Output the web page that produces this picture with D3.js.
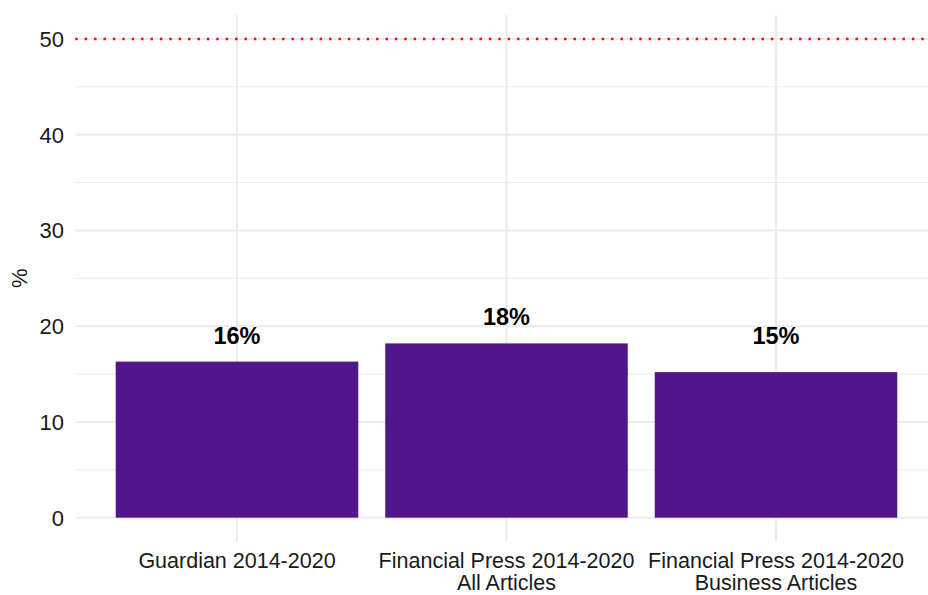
<!DOCTYPE html>
<html>
<head>
<meta charset="utf-8">
<script src="https://cdn.jsdelivr.net/npm/d3@7"></script>
<style>
  html, body { margin: 0; padding: 0; background: #fff; }
  svg { display: block; font-family: "Liberation Sans", Arial, sans-serif; }
</style>
</head>
<body>
<div id="chart"></div>
<script>
// Share of articles per source (%)
const categories = [
  ["Guardian 2014-2020"],
  ["Financial Press 2014-2020", "All Articles"],
  ["Financial Press 2014-2020", "Business Articles"]
];
const values = [16.3, 18.2, 15.2];
// vertical anchor (in % units) of each value label
const labelAnchors = [18.1, 20.1, 18.1];
const yTicks = [0, 10, 20, 30, 40, 50];
const yMinorTicks = [5, 15, 25, 35, 45];
const referenceLine = 50;

const W = 928, H = 595;
const svg = d3.select("#chart").append("svg")
  .attr("width", W).attr("height", H);

const keys = categories.map(c => c.join(" "));

const x = d3.scaleBand()
  .domain(keys)
  .range([75.3, 937.7])
  .paddingInner(0.1)
  .paddingOuter(0.15);

const y = d3.scaleLinear()
  .domain([-2.5, 52.5])
  .range([541.6, 15]);

const panelLeft = 75.3, panelRight = 937.7;

// grid: minor horizontal
svg.append("g").selectAll("line").data(yMinorTicks).join("line")
  .attr("x1", panelLeft).attr("x2", panelRight)
  .attr("y1", d => y(d)).attr("y2", d => y(d))
  .attr("stroke", "#EBEBEB").attr("stroke-width", 1);

// grid: major horizontal
svg.append("g").selectAll("line").data(yTicks).join("line")
  .attr("x1", panelLeft).attr("x2", panelRight)
  .attr("y1", d => y(d)).attr("y2", d => y(d))
  .attr("stroke", "#EBEBEB").attr("stroke-width", 2);

// grid: major vertical
svg.append("g").selectAll("line").data(keys).join("line")
  .attr("x1", d => x(d) + x.bandwidth() / 2).attr("x2", d => x(d) + x.bandwidth() / 2)
  .attr("y1", y.range()[1]).attr("y2", y.range()[0])
  .attr("stroke", "#EBEBEB").attr("stroke-width", 2);

// bars
svg.append("g").selectAll("rect").data(values).join("rect")
  .attr("x", (d, i) => x(keys[i]))
  .attr("width", x.bandwidth())
  .attr("y", d => y(d))
  .attr("height", d => y(0) - y(d))
  .attr("fill", "#52168B");

// value labels
svg.append("g").selectAll("text").data(values).join("text")
  .attr("x", (d, i) => x(keys[i]) + x.bandwidth() / 2)
  .attr("y", (d, i) => y(labelAnchors[i]))
  .attr("text-anchor", "middle")
  .attr("font-weight", "bold")
  .attr("font-size", "23.5px")
  .attr("fill", "#000")
  .text(d => d3.format(".0f")(d) + "%");

// dotted reference line
svg.append("line")
  .attr("x1", panelLeft).attr("x2", panelRight)
  .attr("y1", y(referenceLine)).attr("y2", y(referenceLine))
  .attr("stroke", "#FF0000").attr("stroke-width", 2.4)
  .attr("stroke-dasharray", "2.4,7");

// y axis tick labels
svg.append("g").selectAll("text").data(yTicks).join("text")
  .attr("x", 64)
  .attr("y", d => y(d))
  .attr("dy", "0.36em")
  .attr("text-anchor", "end")
  .attr("font-size", "22px")
  .attr("fill", "#1a1a1a")
  .text(d => d);

// x axis labels (possibly two lines)
const xl = svg.append("g").selectAll("text").data(categories).join("text")
  .attr("x", (d, i) => x(keys[i]) + x.bandwidth() / 2)
  .attr("y", 568)
  .attr("text-anchor", "middle")
  .attr("font-size", "21.5px")
  .attr("fill", "#1a1a1a");
xl.selectAll("tspan").data(d => d).join("tspan")
  .attr("x", function () { return d3.select(this.parentNode).attr("x"); })
  .attr("dy", (d, i) => i === 0 ? 0 : 22)
  .text(d => d);

// y axis title
svg.append("text")
  .attr("transform", `translate(27, ${(y.range()[0] + y.range()[1]) / 2}) rotate(-90)`)
  .attr("text-anchor", "middle")
  .attr("font-size", "22px")
  .attr("fill", "#1a1a1a")
  .text("%");
</script>
</body>
</html>
